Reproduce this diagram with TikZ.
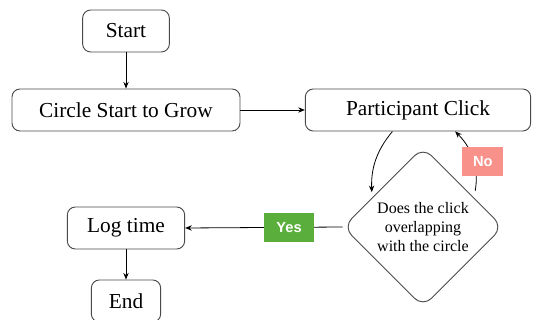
\documentclass[tikz,border=0pt]{standalone}
\usepackage{fontspec}
\setmainfont{Liberation Serif}
\newfontfamily\labelfont{Liberation Sans}
\usetikzlibrary{arrows.meta, shapes.geometric}
\definecolor{yesgreen}{HTML}{5AAE3B}
\definecolor{nopink}{HTML}{F8918A}
\definecolor{boxline}{HTML}{4A4A4A}
\tikzset{
  stepbox/.style = {rectangle, rounded corners=6pt, draw=boxline,
      line width=0.7pt, minimum height=31.5pt, inner sep=0pt,
      font=\fontsize{16}{18}\selectfont},
  decision/.style = {diamond, rounded corners=9pt, draw=boxline,
      line width=0.7pt, minimum size=120pt, inner sep=0pt, align=center,
      font=\fontsize{12}{14.5}\selectfont},
  flow/.style = {-{Stealth[length=5pt, width=4pt]}, line width=0.6pt},
  answer/.style = {rectangle, fill=#1, text=white, minimum height=22pt,
      inner sep=0pt, font=\labelfont\bfseries\fontsize{11}{13}\selectfont},
}

\begin{document}
\begin{tikzpicture}[x=0.75pt, y=0.75pt]
  \useasboundingbox (0,0) rectangle (539,-320);

  \node[stepbox, minimum width=65pt] (start) at (126,-31) {Start};
  \node[stepbox, minimum width=171pt] (grow) at (126,-110) {Circle Start to Grow};
  \node[stepbox, minimum width=169pt] (click) at (418,-110) {Participant Click};
  \node[decision] (check) at (423,-227) {Does the click\\ overlapping\\ with the circle};
  \node[stepbox, minimum width=88pt] (logt) at (126,-228) {Log time};
  \node[stepbox, minimum width=52pt] (stop) at (126,-301) {End};

  \draw[flow] (start) -- (grow);
  \draw[flow] (grow) -- (click);
  \draw[flow, shorten >=4pt] (click.220) to[out=230, in=92] (check.150);
  \draw[flow, shorten <=5pt] (check.30) to[out=80, in=-45]
    node[answer=nopink, minimum width=31pt, pos=.5, xshift=7pt] {No} (click.330);
  \draw[flow] (check.west) -- node[answer=yesgreen, minimum width=37pt, pos=.34] {Yes} (logt.east);
  \draw[flow] (logt) -- (stop);
\end{tikzpicture}
\end{document}
